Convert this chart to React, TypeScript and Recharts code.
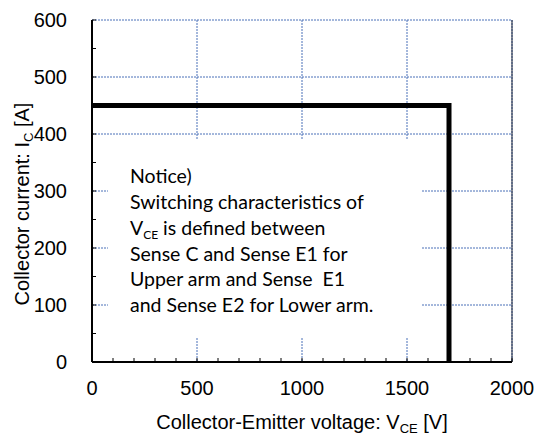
import React from "react";
import {
  LineChart,
  Line,
  XAxis,
  YAxis,
  CartesianGrid,
  ReferenceArea,
  ReferenceLine,
  Label,
} from "recharts";

// Data: reverse-bias safe operating area boundary
const vceValues = [0, 1700, 1700];
const icValues = [450, 450, 0];

// Labelled ticks and minor (inward) ticks
const xLabelTicks = [0, 500, 1000, 1500, 2000];
const yLabelTicks = [0, 100, 200, 300, 400, 500, 600];
const xMinorTicks = [0, 100, 200, 300, 400, 500, 600, 700, 800, 900, 1000, 1100, 1200, 1300, 1400, 1500, 1600, 1700, 1800, 1900, 2000];
const yMinorTicks = [0, 50, 100, 150, 200, 250, 300, 350, 400, 450, 500, 550, 600];

const noticeLines = [
  ["Notice)"],
  ["Switching characteristics of"],
  ["V", "CE", " is defined between"],
  ["Sense C and Sense E1 for"],
  ["Upper arm and Sense  E1"],
  ["and Sense E2 for Lower arm."],
];

// Notice box extent in data units
const boxX = [76, 1567];
const boxY = [42, 391];

const data = vceValues.map((v, i) => ({ vce: v, ic: icValues[i] }));

const AXIS_FONT = "'Liberation Sans', Arial, sans-serif";
const NOTE_FONT = "Lato, 'Open Sans', sans-serif";
const GRID_COLOR = "#4a70b8";
const X_TICK_MARGIN = 19;
const Y_TICK_MARGIN = 25;
const MINOR_LEN = 4;

const XTick = (props: any) => {
  const { x, y, payload } = props;
  const axisY = y - X_TICK_MARGIN;
  const v = payload.value;
  return (
    <g>
      <line x1={x} x2={x} y1={axisY} y2={axisY - MINOR_LEN} stroke="#000" strokeWidth={1} />
      {xLabelTicks.includes(v) && (
        <text
          x={x}
          y={y}
          dy="0.71em"
          textAnchor="middle"
          fontFamily={AXIS_FONT}
          fontSize={20}
          fill="#000"
        >
          {v}
        </text>
      )}
    </g>
  );
};

const YTick = (props: any) => {
  const { x, y, payload } = props;
  const axisX = x + Y_TICK_MARGIN;
  const v = payload.value;
  return (
    <g>
      <line x1={axisX} x2={axisX + MINOR_LEN} y1={y} y2={y} stroke="#000" strokeWidth={1} />
      {yLabelTicks.includes(v) && (
        <text
          x={x}
          y={y}
          dy="0.355em"
          textAnchor="end"
          fontFamily={AXIS_FONT}
          fontSize={20}
          fill="#000"
        >
          {v}
        </text>
      )}
    </g>
  );
};

const NoticeLabel = (props: any) => {
  const vb = props.viewBox || {};
  const x0 = vb.x + 22;
  const y0 = vb.y + 44;
  return (
    <g>
      {noticeLines.map((ln, i) => (
        <text
          key={i}
          x={x0}
          y={y0 + i * 25.8}
          fontFamily={NOTE_FONT}
          fontSize={19.5}
          fill="#000"
          style={{ whiteSpace: "pre" }}
        >
          {ln.length === 1 ? (
            ln[0]
          ) : (
            <>
              <tspan>{ln[0]}</tspan>
              <tspan fontSize={12} dy={4}>{ln[1]}</tspan>
              <tspan dy={-4}>{ln[2]}</tspan>
            </>
          )}
        </text>
      ))}
    </g>
  );
};

const XTitle = (props: any) => {
  const vb = props.viewBox || {};
  const cx = vb.x + vb.width / 2;
  return (
    <text
      x={cx}
      y={vb.y + 67}
      textAnchor="middle"
      fontFamily={AXIS_FONT}
      fontSize={20}
      fill="#000"
    >
      <tspan>Collector-Emitter voltage: V</tspan>
      <tspan fontSize={13} dy={4}>CE</tspan>
      <tspan dy={-4}> [V]</tspan>
    </text>
  );
};

const YTitle = (props: any) => {
  const vb = props.viewBox || {};
  const cx = 29;
  const cy = vb.y + vb.height / 2 + 13;
  return (
    <text
      x={cx}
      y={cy}
      textAnchor="middle"
      transform={`rotate(-90, ${cx}, ${cy})`}
      fontFamily={AXIS_FONT}
      fontSize={20}
      fill="#000"
    >
      <tspan>Collector current: I</tspan>
      <tspan fontSize={13} dy={4}>C</tspan>
      <tspan dy={-4}> [A]</tspan>
    </text>
  );
};

export default function App() {
  return (
    <div style={{ position: "absolute", left: 0, top: 0, width: 537, height: 439, background: "#fff" }}>
      <LineChart
        width={537}
        height={439}
        data={data}
        margin={{ top: 20, right: 25, left: 0, bottom: 0 }}
      >
        <CartesianGrid
          stroke={GRID_COLOR}
          strokeDasharray="2 1"
          strokeWidth={1}
          horizontalValues={yLabelTicks}
          verticalValues={xLabelTicks}
        />
        <XAxis
          dataKey="vce"
          type="number"
          domain={[0, 2000]}
          ticks={xMinorTicks}
          height={77}
          tickLine={false}
          tickSize={0}
          tickMargin={X_TICK_MARGIN}
          axisLine={{ stroke: "#000", strokeWidth: 2 }}
          tick={<XTick />}
          interval={0}
        >
          <Label content={<XTitle />} />
        </XAxis>
        <YAxis
          type="number"
          domain={[0, 600]}
          ticks={yMinorTicks}
          width={92}
          tickLine={false}
          tickSize={0}
          tickMargin={Y_TICK_MARGIN}
          axisLine={{ stroke: "#000", strokeWidth: 2 }}
          tick={<YTick />}
          interval={0}
        >
          <Label content={<YTitle />} />
        </YAxis>
        <ReferenceArea
          x1={boxX[0]}
          x2={boxX[1]}
          y1={boxY[0]}
          y2={boxY[1]}
          fill="#fff"
          fillOpacity={1}
          stroke="none"
          label={<NoticeLabel />}
        />
        <ReferenceLine x={2000} stroke="#1c2233" strokeWidth={1} />
        <Line
          dataKey="ic"
          type="linear"
          stroke="#000"
          strokeWidth={5}
          dot={false}
          isAnimationActive={false}
          strokeLinejoin="miter"
        />
      </LineChart>
    </div>
  );
}
